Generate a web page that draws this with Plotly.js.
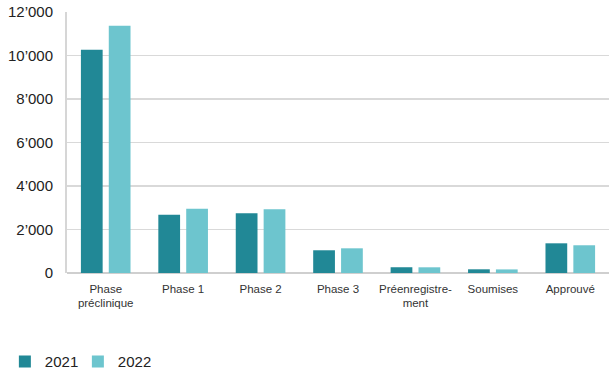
<!DOCTYPE html>
<html><head><meta charset="utf-8">
<script src="https://cdn.plot.ly/plotly-3.0.1.min.js"></script>
<style>html,body{margin:0;padding:0;background:#fff}</style>
</head><body><div id="chart" style="width:609px;height:370px"></div>
<script>
const categories = ["Phase<br>préclinique","Phase 1","Phase 2","Phase 3","Préenregistre-<br>ment","Soumises","Approuvé"];
const values2021 = [10270, 2680, 2745, 1045, 265, 170, 1365];
const values2022 = [11370, 2955, 2930, 1135, 262, 165, 1275];
const yTickVals = [0, 2000, 4000, 6000, 8000, 10000, 12000];
const yTickText = ["0","2’000","4’000","6’000","8’000","10’000","12’000"];

const traces = [
  {type:'bar', name:'2021', x:categories, y:values2021, marker:{color:'#218896'}},
  {type:'bar', name:'2022', x:categories, y:values2022, marker:{color:'#6dc5ce'}}
];
const layout = {
  width:609, height:370,
  margin:{l:67, r:0, t:12, b:97},
  font:{family:'"Liberation Sans", Arial, sans-serif', color:'#222'},
  barmode:'group', bargap:0.28, bargroupgap:0.22,
  paper_bgcolor:'#fff', plot_bgcolor:'#fff',
  xaxis:{tickfont:{size:11.5, color:'#333'}, showline:false, ticks:'', zeroline:false, showgrid:false, ticklabelstandoff:7},
  yaxis:{range:[0,12000], tickvals:yTickVals, ticktext:yTickText, tickfont:{size:15, color:'#222'},
         showgrid:true, gridcolor:'#d9d9d9', gridwidth:1.5, zeroline:true, zerolinecolor:'#cfcfcf', zerolinewidth:1.5,
         showline:true, linecolor:'#d6d6d6', linewidth:2, ticks:'', ticklabelstandoff:9},
  legend:{orientation:'h', xref:'container', yref:'container', x:0.008, y:0.022, xanchor:'left', yanchor:'middle',
          font:{size:15, color:'#222'}, entrywidth:28, entrywidthmode:'pixels', traceorder:'normal'},
  showlegend:true
};
Plotly.newPlot('chart', traces, layout, {displayModeBar:false, staticPlot:true});
</script></body></html>
